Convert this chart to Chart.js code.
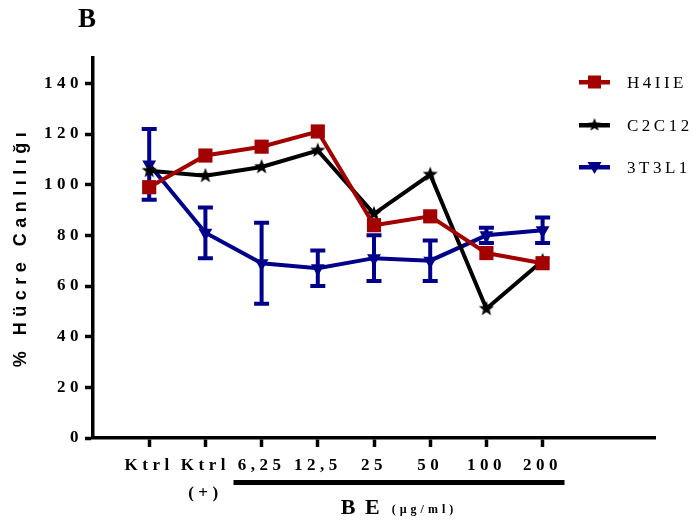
<!DOCTYPE html>
<html>
<head>
<meta charset="utf-8">
<script src="https://cdn.jsdelivr.net/npm/chart.js@4.4.0/dist/chart.umd.min.js"></script>
<style>
  html, body { margin: 0; padding: 0; background: #fff; }
  #wrap { width: 693px; height: 522px; }
</style>
</head>
<body>
<div id="wrap"><canvas id="chart" width="693" height="522"></canvas></div>
<script>
// kategoriler ve ölçümler (% hücre canlılığı)
const categories = ['Ktrl', ['Ktrl', '(+)'], '6,25', '12,5', '25', '50', '100', '200'];
const yTicks = [0, 20, 40, 60, 80, 100, 120, 140];
const h4iie = [99, 111.5, 115, 121, 84, 87.5, 73, 69];
const c2c12 = [105.5, 103.5, 107, 113.5, 88.5, 104, 51, 70];
const t3l1 = [108, 81, 69, 67, 71, 70, 80, 82];
const t3l1Err = [14, 10, 16, 7, 9, 8, 3, 5];

const RED = '#a30000';
const NAVY = '#00008a';

// dolu beş köşeli yıldız (Chart.js'in 'star' stili çizgi olduğu için)
const makeStar = (r, color) => {
  const c = document.createElement('canvas');
  const s = Math.ceil(r * 2) + 2;
  c.width = s;
  c.height = s;
  const g = c.getContext('2d');
  g.fillStyle = color;
  g.beginPath();
  for (let i = 0; i < 10; i++) {
    const rad = i % 2 ? r * 0.42 : r;
    const a = -Math.PI / 2 + i * Math.PI / 5;
    g.lineTo(s / 2 + rad * Math.cos(a), s / 2 + rad * Math.sin(a));
  }
  g.closePath();
  g.fill();
  return c;
};
const star = makeStar(8, '#000');
const smallStar = makeStar(7, '#000');

const toPoints = (arr) => arr.map((v, i) => ({ x: i, y: v }));

// hata çubukları (3T3L1)
const errorBars = {
  id: 'errorBars',
  beforeDatasetsDraw(chart) {
    const { ctx, scales: { x, y } } = chart;
    ctx.save();
    ctx.strokeStyle = NAVY;
    ctx.lineWidth = 4;
    t3l1.forEach((v, i) => {
      const px = x.getPixelForValue(i);
      const top = y.getPixelForValue(v + t3l1Err[i]);
      const bot = y.getPixelForValue(v - t3l1Err[i]);
      ctx.beginPath();
      ctx.moveTo(px, top);
      ctx.lineTo(px, bot);
      ctx.moveTo(px - 7.5, top);
      ctx.lineTo(px + 7.5, top);
      ctx.moveTo(px - 7.5, bot);
      ctx.lineTo(px + 7.5, bot);
      ctx.stroke();
    });
    ctx.restore();
  }
};

// başlık, eksen yazıları ve lejant
const decorations = {
  id: 'decorations',
  beforeDraw(chart) {
    chart.ctx.letterSpacing = '4.5px';
  },
  afterDraw(chart) {
    const { ctx, scales: { x } } = chart;
    ctx.save();
    ctx.fillStyle = '#000';

    // panel harfi
    ctx.letterSpacing = '0px';
    ctx.font = 'bold 27px "Liberation Serif"';
    ctx.textAlign = 'left';
    ctx.textBaseline = 'alphabetic';
    ctx.fillText('B', 78, 27);

    // y ekseni başlığı
    ctx.save();
    ctx.translate(21, 247);
    ctx.rotate(-Math.PI / 2);
    ctx.font = 'bold 18px "Liberation Sans"';
    ctx.letterSpacing = '5.5px';
    ctx.textAlign = 'center';
    ctx.textBaseline = 'middle';
    ctx.fillText('% Hücre Canlılığı', 0, 0);
    ctx.restore();

    // BE dozlarının altındaki çizgi
    const x0 = x.getPixelForValue(1.5);
    const x1 = x.getPixelForValue(7.39);
    ctx.fillRect(x0, 480, x1 - x0, 5);

    // BE (µg/ml)
    ctx.textAlign = 'left';
    ctx.textBaseline = 'alphabetic';
    ctx.font = 'bold 22px "Liberation Serif"';
    ctx.letterSpacing = '2px';
    const w1 = ctx.measureText('B E').width;
    ctx.font = 'bold 12px "Liberation Serif"';
    ctx.letterSpacing = '4px';
    const w2 = ctx.measureText('(µg/ml)').width;
    const gap = 10;
    let sx = (x0 + x1) / 2 - (w1 + gap + w2) / 2;
    ctx.font = 'bold 22px "Liberation Serif"';
    ctx.letterSpacing = '2px';
    ctx.fillText('B E', sx, 514);
    ctx.font = 'bold 12px "Liberation Serif"';
    ctx.letterSpacing = '4px';
    ctx.fillText('(µg/ml)', sx + w1 + gap, 513);

    // lejant
    const items = [
      { label: 'H4IIE', color: RED, y: 82, mark: 'rect' },
      { label: 'C2C12', color: '#000', y: 125, mark: 'star' },
      { label: '3T3L1', color: NAVY, y: 167, mark: 'tri' }
    ];
    items.forEach(it => {
      ctx.fillStyle = it.color;
      ctx.fillRect(579, it.y - 2, 31, 4.5);
      const cx = 594.5;
      if (it.mark === 'rect') {
        ctx.fillRect(cx - 6.5, it.y - 6.5, 13, 13);
      } else if (it.mark === 'star') {
        ctx.drawImage(smallStar, cx - smallStar.width / 2, it.y - smallStar.height / 2);
      } else {
        ctx.beginPath();
        ctx.moveTo(cx - 7, it.y - 5);
        ctx.lineTo(cx + 7, it.y - 5);
        ctx.lineTo(cx, it.y + 7);
        ctx.closePath();
        ctx.fill();
      }
      ctx.fillStyle = '#000';
      ctx.font = '17px "Liberation Serif"';
      ctx.letterSpacing = '3.5px';
      ctx.fillText(it.label, 627, it.y + 6);
    });
    ctx.restore();
  }
};

new Chart(document.getElementById('chart'), {
  type: 'line',
  data: {
    datasets: [
      {
        label: 'H4IIE',
        data: toPoints(h4iie),
        borderColor: RED,
        backgroundColor: RED,
        borderWidth: 4,
        pointStyle: 'rect',
        pointRadius: 10,
        pointBorderWidth: 0,
        pointBackgroundColor: RED
      },
      {
        label: 'C2C12',
        data: toPoints(c2c12),
        borderColor: '#000',
        backgroundColor: '#000',
        borderWidth: 4,
        pointStyle: star,
        pointRadius: 8
      },
      {
        label: '3T3L1',
        data: toPoints(t3l1),
        borderColor: NAVY,
        backgroundColor: NAVY,
        borderWidth: 4,
        pointStyle: 'triangle',
        pointRotation: 180,
        pointRadius: 8,
        pointBorderWidth: 0,
        pointBackgroundColor: NAVY
      }
    ]
  },
  options: {
    responsive: false,
    animation: false,
    events: [],
    layout: { padding: { left: 13, top: 58, right: 38, bottom: 0 } },
    plugins: {
      legend: { display: false },
      tooltip: { enabled: false }
    },
    scales: {
      x: {
        type: 'linear',
        min: -1,
        max: 9,
        afterBuildTicks: (scale) => {
          scale.ticks = categories.map((_, i) => ({ value: i }));
        },
        afterFit: (scale) => { scale.height = 84; },
        ticks: {
          autoSkip: false,
          maxRotation: 0,
          padding: 5,
          color: '#000',
          font: { family: 'Liberation Serif', size: 17, weight: 'bold', lineHeight: '28px' },
          callback: (v) => categories[v]
        },
        grid: { drawOnChartArea: false, drawTicks: true, tickLength: 9, tickWidth: 3.5, tickColor: '#000' },
        border: { display: true, color: '#000', width: 3.5 }
      },
      y: {
        min: 0,
        max: 150,
        afterBuildTicks: (scale) => {
          scale.ticks = yTicks.map(v => ({ value: v }));
        },
        afterFit: (scale) => { scale.width = 80; },
        ticks: {
          padding: 2,
          color: '#000',
          font: { family: 'Liberation Serif', size: 17, weight: 'bold' }
        },
        grid: { drawOnChartArea: false, drawTicks: true, tickLength: 8, tickWidth: 3.5, tickColor: '#000' },
        border: { display: true, color: '#000', width: 3.5 }
      }
    }
  },
  plugins: [errorBars, decorations]
});
</script>
</body>
</html>
